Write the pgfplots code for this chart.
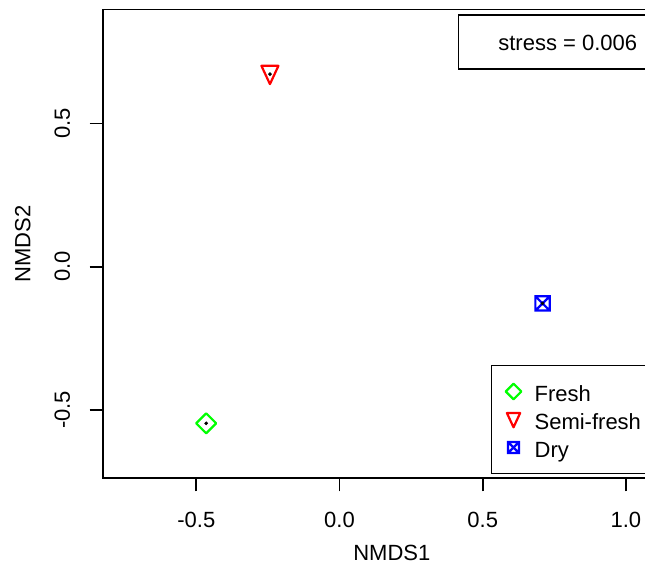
\documentclass[border=0pt]{standalone}
\usepackage{fontspec}
\setmainfont{Liberation Sans}
\usepackage{pgfplots}
\pgfplotsset{compat=1.18}
\usetikzlibrary{calc}

\definecolor{rgreen}{RGB}{0,255,0}
\definecolor{rred}{RGB}{255,0,0}
\definecolor{rblue}{RGB}{0,0,255}

% R-style marks: pch 5, 6 and 7
\pgfdeclareplotmark{rdiamond}{%
  \pgfpathmoveto{\pgfqpoint{0pt}{\pgfplotmarksize}}%
  \pgfpathlineto{\pgfqpoint{\pgfplotmarksize}{0pt}}%
  \pgfpathlineto{\pgfqpoint{0pt}{-\pgfplotmarksize}}%
  \pgfpathlineto{\pgfqpoint{-\pgfplotmarksize}{0pt}}%
  \pgfpathclose\pgfusepathqstroke}
\pgfdeclareplotmark{itri}{%
  \pgfpathmoveto{\pgfqpoint{-0.85\pgfplotmarksize}{0.83\pgfplotmarksize}}%
  \pgfpathlineto{\pgfqpoint{0.85\pgfplotmarksize}{0.83\pgfplotmarksize}}%
  \pgfpathlineto{\pgfqpoint{0pt}{-\pgfplotmarksize}}%
  \pgfpathclose\pgfusepathqstroke}
\pgfdeclareplotmark{boxx}{%
  \pgfpathrectangle{\pgfqpoint{-\pgfplotmarksize}{-\pgfplotmarksize}}{\pgfqpoint{2\pgfplotmarksize}{2\pgfplotmarksize}}%
  \pgfpathmoveto{\pgfqpoint{-\pgfplotmarksize}{-\pgfplotmarksize}}%
  \pgfpathlineto{\pgfqpoint{\pgfplotmarksize}{\pgfplotmarksize}}%
  \pgfpathmoveto{\pgfqpoint{-\pgfplotmarksize}{\pgfplotmarksize}}%
  \pgfpathlineto{\pgfqpoint{\pgfplotmarksize}{-\pgfplotmarksize}}%
  \pgfusepathqstroke}

\begin{document}
\fontsize{11}{13}\selectfont
\begin{tikzpicture}
\begin{axis}[
    scale only axis,
    width=289.15pt, height=234.4pt,
    xmin=-0.827, xmax=1.1924,
    ymin=-0.7383, ymax=0.8974,
    axis line style={line width=0.9pt},
    xtick={-0.5,0,0.5,1}, xticklabels={-0.5,0.0,0.5,1.0},
    ytick={-0.5,0,0.5}, yticklabels={-0.5,0.0,0.5},
    xtick pos=bottom, ytick pos=left,
    tick align=outside, major tick length=6.5pt,
    tick style={line width=0.9pt, black},
    xticklabel style={anchor=north, inner sep=0pt},
    xticklabel shift=10.4pt,
    yticklabel style={rotate=90, anchor=south, inner sep=0pt},
    yticklabel shift=9.6pt,
    xlabel={NMDS1}, ylabel={NMDS2},
    xlabel style={at={(axis description cs:0.5,-0.1593)}, anchor=center},
    ylabel style={at={(axis description cs:-0.1383,0.5)}, anchor=center},
    legend style={at={(axis cs:0.528,-0.343)}, anchor=north west,
        draw=black, line width=0.7pt, inner xsep=0pt, inner ysep=5.9pt,
        row sep=0pt, nodes={inner sep=0pt, text height=12pt, text depth=2pt}},
    legend cell align=left,
    legend image code/.code={\path (-10.5pt,0pt) (10pt,0pt);
        \draw[#1] plot coordinates {(0pt,0pt)};},
]
\coordinate (sw) at (rel axis cs:0,0);

\addplot[only marks, mark=rdiamond, mark size=5pt, color=rgreen, line width=1.1pt,
    mark options={line join=round},
    legend image post style={mark size=3.9pt}]
    coordinates {(-0.4656,-0.5464)};
\addlegendentry{\makebox[72pt][l]{Fresh}}

\addplot[only marks, mark=itri, mark size=5pt, color=rred, line width=1.1pt,
    mark options={line join=round},
    legend image post style={mark size=3.9pt}]
    coordinates {(-0.243,0.672)};
\addlegendentry{\makebox[72pt][l]{Semi-fresh}}

\addplot[only marks, mark=boxx, mark size=3.6pt, color=rblue, line width=1.1pt,
    legend image post style={mark size=2.75pt}]
    coordinates {(0.709,-0.128)};
\addlegendentry{\makebox[72pt][l]{Dry}}

% site points
\addplot[only marks, mark=*, mark size=0.7pt, black, forget plot]
    coordinates {(-0.4656,-0.5464) (-0.243,0.672) (0.709,-0.128)};

\draw[line width=0.7pt] (axis cs:0.4146,0.878) rectangle (axis cs:1.175,0.690);
\node[anchor=base west, inner sep=0pt] at (axis cs:0.5533,0.753) {stress = 0.006};
\end{axis}
\pgfresetboundingbox
\path[use as bounding box] ($(sw)+(-51.35pt,-44.85pt)$) rectangle ++(322.5pt,284pt);
\end{tikzpicture}
\end{document}
